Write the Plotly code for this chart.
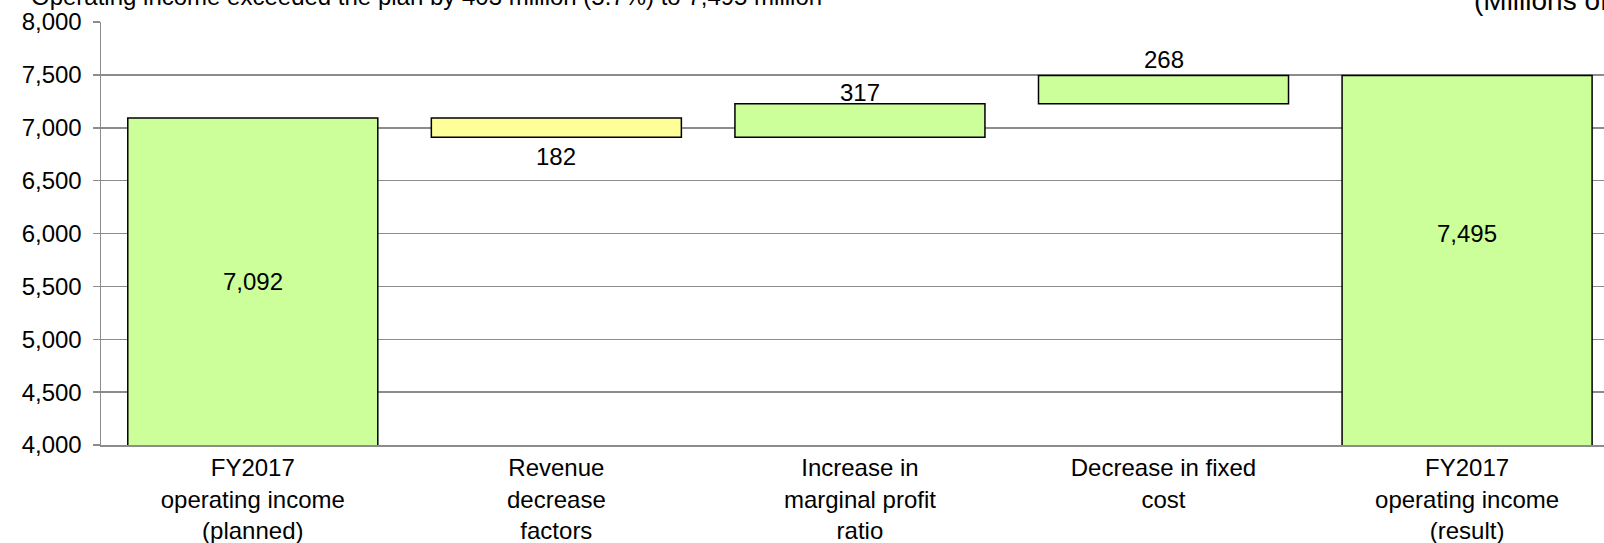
import plotly.graph_objects as go

categories = [
    "FY2017<br>operating income<br>(planned)",
    "Revenue<br>decrease<br>factors",
    "Increase in<br>marginal profit<br>ratio",
    "Decrease in fixed<br>cost",
    "FY2017<br>operating income<br>(result)",
]
values = [7092, -182, 317, 268, 7495]
measures = ["absolute", "relative", "relative", "relative", "total"]
labels = ["7,092", "182", "317", "268", "7,495"]
title_text = "Operating income exceeded the plan by 403 million (5.7%) to 7,495 million"
unit_text = "(Millions of yen)"

GREEN = "#CCFF99"
YELLOW = "#FFFF99"
FONT = "Liberation Sans, Arial, sans-serif"

# compute bases / heights
bases, heights, colors = [], [], []
running = 0
for v, m in zip(values, measures):
    if m in ("absolute", "total"):
        bases.append(0)
        heights.append(v)
        colors.append(GREEN)
        running = v
    else:
        if v >= 0:
            bases.append(running)
            heights.append(v)
            colors.append(GREEN)
        else:
            bases.append(running + v)
            heights.append(-v)
            colors.append(YELLOW)
        running += v

x_idx = list(range(len(categories)))

fig = go.Figure(go.Bar(
    x=x_idx, y=heights, base=bases,
    marker=dict(color=colors, line=dict(color="black", width=1.5)),
    hoverinfo="skip",
))

label_shift = [0, -4, -4, 0, 0]
annotations = []
for i, (v, m, lab) in enumerate(zip(values, measures, labels)):
    if m == "absolute":
        annotations.append(dict(x=i, y=(4000 + v) / 2, text=lab, showarrow=False,
                                xref="x", yref="y", yanchor="middle"))
    elif m == "total":
        annotations.append(dict(x=i, y=6000, text=lab, showarrow=False,
                                xref="x", yref="y", yanchor="middle"))
    elif v < 0:
        annotations.append(dict(x=i, y=bases[i], text=lab, showarrow=False,
                                xref="x", yref="y", yanchor="top", yshift=label_shift[i]))
    else:
        annotations.append(dict(x=i, y=bases[i] + heights[i], text=lab, showarrow=False,
                                xref="x", yref="y", yanchor="bottom", yshift=label_shift[i]))

annotations.append(dict(x=0, xref="paper", xanchor="left", xshift=-72,
                        y=1, yref="paper", yanchor="bottom", yshift=10,
                        text=title_text, showarrow=False))
annotations.append(dict(x=1, xref="paper", xanchor="left", xshift=-132,
                        y=1, yref="paper", yanchor="bottom", yshift=4,
                        text=unit_text, showarrow=False, font=dict(size=28)))

fig.update_layout(
    width=1604, height=543,
    margin=dict(l=101, r=0, t=22, b=98),
    paper_bgcolor="white", plot_bgcolor="white",
    font=dict(family=FONT, size=24, color="black"),
    bargap=0.1764,
    showlegend=False,
    annotations=annotations,
    xaxis=dict(
        range=[-0.5, 4.451],
        tickmode="array", tickvals=x_idx, ticktext=categories,
        showgrid=False, zeroline=False,
        showline=True, linecolor="#8c8c8c", linewidth=1.5,
        ticks="", tickfont=dict(size=24), ticklabelstandoff=1,
        automargin=False, fixedrange=True,
    ),
    yaxis=dict(
        range=[4000, 8000], tickvals=[4000, 4500, 5000, 5500, 6000, 6500, 7000, 7500, 8000],
        tickformat=",d",
        showgrid=True, gridcolor="#8c8c8c", gridwidth=1.5,
        zeroline=False,
        showline=True, linecolor="#8c8c8c", linewidth=1.5,
        ticks="outside", ticklen=7, tickcolor="#8c8c8c", tickwidth=1.5,
        tickfont=dict(size=24), ticklabelstandoff=6,
        automargin=False, fixedrange=True,
    ),
)

fig.write_html(
    "out.html",
    config={"displayModeBar": False, "staticPlot": True},
    post_script="document.body.style.margin='0';document.body.style.overflow='hidden';",
)
